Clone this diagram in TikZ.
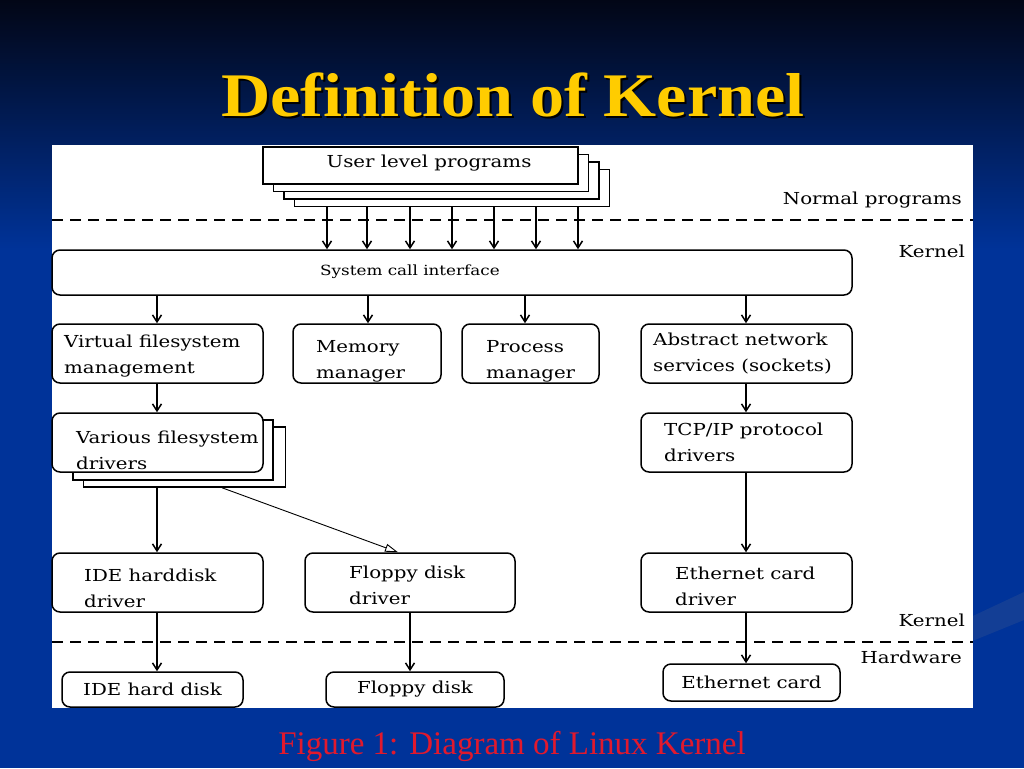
\documentclass[tikz,border=0pt]{standalone}
\usepackage{fontspec}
\setmainfont{Liberation Serif}
\newfontfamily\titlefont[FakeStretch=1.1]{Liberation Serif}
\newfontfamily\diafont[FakeStretch=1.2]{DejaVu Serif}
\usetikzlibrary{arrows.meta}
\definecolor{slideblue}{RGB}{0,51,153}
\definecolor{slidetop}{RGB}{2,6,22}
\definecolor{titleyellow}{RGB}{255,204,0}
\definecolor{capred}{RGB}{225,25,45}
\tikzset{
  box/.style={draw, line width=1.5pt, rounded corners=8pt, fill=white, inner sep=0pt},
  sheet/.style={draw, line width=1.5pt, fill=white, inner sep=0pt},
  lbl/.style={inner sep=0pt, align=left, font=\diafont\fontsize{16.5}{26}\selectfont},
  arr/.style={line width=1.5pt, -{Straight Barb[length=7pt,width=9pt]}},
  sep/.style={line width=1.6pt, dash pattern=on 11pt off 7pt},
}
\begin{document}
\begin{tikzpicture}[x=1pt,y=-1pt]
    % slide background
    \fill[slideblue] (0,0) rectangle (1024,768);
    \shade[top color=slidetop, bottom color=slideblue] (0,0) rectangle (1024,250);
    \fill[gray!60!slideblue, opacity=0.25] (960,622) -- (1024,592) -- (1024,620) -- (960,646) -- cycle;
    \useasboundingbox (0,0) rectangle (1024,768);
    \node[anchor=base, text=black, font=\titlefont\fontsize{62}{70}\selectfont\bfseries] at (515,118) {Definition of Kernel};
    \node (title) [anchor=base, text=titleyellow, font=\titlefont\fontsize{62}{70}\selectfont\bfseries] at (513,116) {Definition of Kernel};
    \fill[white] (52,145) rectangle (973,708);
    % levels
    \draw[sep] (52,220) -- (973,220);
    \draw[sep] (52,642) -- (973,642);
    \node[lbl, anchor=east] at (962,200) {Normal programs};
    \node[lbl, anchor=east] at (965,251) {Kernel};
    \node[lbl, anchor=east] at (965,620) {Kernel};
    \node[lbl, anchor=east] at (962,657) {Hardware};
    % user programs
    \foreach \k in {3,2,1}
        \node[sheet, minimum width=315, minimum height=37] (usr\k) at (420.5+10.5*\k,165.5+7.5*\k) {};
    \node[sheet, minimum width=315, minimum height=37] (usr) at (420.5,165.5) {};
    \node[lbl] at (429,163) {User level programs};
    \node[box, minimum width=800, minimum height=45] (sci) at (452,272.5) {};
    \node[lbl, font=\diafont\fontsize{14}{20}\selectfont] at (410,272) {System call interface};
    \foreach \x in {327,367,410,452,494,536,578}
        \draw[arr] (usr3.south -| \x,0) -- (sci.north -| \x,0);
    % kernel parts
    \node[box, minimum width=211, minimum height=59] (vfs) at (157.5,353.5) {};
    \node[lbl, anchor=west] at (64,356) {Virtual filesystem\\management};
    \node[box, minimum width=148, minimum height=59] (mem) at (367,353.5) {};
    \node[lbl, anchor=west] at (316,361) {Memory\\manager};
    \node[box, minimum width=137, minimum height=59] (proc) at (530.5,353.5) {};
    \node[lbl, anchor=west] at (486,361) {Process\\manager};
    \node[box, minimum width=211, minimum height=59] (net) at (746.5,353.5) {};
    \node[lbl, anchor=west] at (653,353.5) {Abstract network\\services (sockets)};
    \foreach \n/\x in {vfs/157,mem/368,proc/525,net/746}
        \draw[arr] (sci.south -| \x,0) -- (\n.north -| \x,0);
    % drivers
    \node[sheet, minimum width=202, minimum height=60] (vfsdrv2) at (184.5,457) {};
    \node[sheet, minimum width=200, minimum height=60] (vfsdrv1) at (173,450) {};
    \node[box, minimum width=211, minimum height=59] (vfsdrv) at (157.5,442.5) {};
    \node[lbl, anchor=west] at (76,450) {Various filesystem\\drivers};
    \node[box, minimum width=211, minimum height=59] (tcp) at (746.5,442.5) {};
    \node[lbl, anchor=west] at (664,442) {TCP/IP protocol\\drivers};
    \draw[arr] (vfs.south -| 157,0) -- (vfsdrv.north -| 157,0);
    \draw[arr] (net.south -| 746,0) -- (tcp.north -| 746,0);
    \node[box, minimum width=211, minimum height=59] (ide) at (157.5,582.5) {};
    \node[lbl, anchor=west] at (84,588.5) {IDE harddisk\\driver};
    \node[box, minimum width=210, minimum height=59] (flop) at (410,582.5) {};
    \node[lbl, anchor=west] at (349,585) {Floppy disk\\driver};
    \node[box, minimum width=211, minimum height=59] (eth) at (746.5,582.5) {};
    \node[lbl, anchor=west] at (675,586) {Ethernet card\\driver};
    \draw[arr] (vfsdrv2.south -| 157,0) -- (ide.north -| 157,0);
    \draw[line width=0.9pt, -{Triangle[open,length=13pt,width=8pt]}] (vfsdrv2.south -| 222,0) -- (flop.north -| 398,0);
    \draw[arr] (tcp.south -| 746,0) -- (eth.north -| 746,0);
    % hardware
    \node[box, lbl, minimum width=181, minimum height=35] (idedisk) at (152.5,689.5) {IDE hard disk};
    \node[box, lbl, minimum width=178, minimum height=35] (floppydisk) at (415,689.5) {Floppy disk};
    \node[box, lbl, minimum width=177, minimum height=37] (ethcard) at (751.5,682.5) {Ethernet card};
    \draw[arr] (ide.south -| 157,0) -- (idedisk.north -| 157,0);
    \draw[arr] (flop.south -| 410,0) -- (floppydisk.north -| 410,0);
    \draw[arr] (eth.south -| 746,0) -- (ethcard.north -| 746,0);
    \node (caption) [anchor=base, text=capred, font=\fontsize{33}{38}\selectfont] at (512,754) {Figure 1: Diagram of Linux Kernel};
\end{tikzpicture}
\end{document}
